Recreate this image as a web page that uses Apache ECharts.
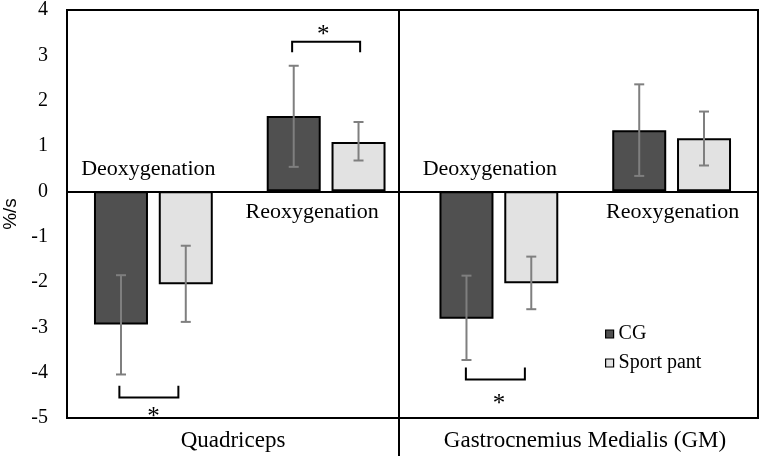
<!DOCTYPE html>
<html>
<head>
<meta charset="utf-8">
<script src="https://cdn.jsdelivr.net/npm/echarts@6/dist/echarts.min.js"></script>
<style>html,body{margin:0;padding:0;background:#fff;}#c{width:763px;height:459px;}</style>
</head>
<body>
<div id="c"></div>
<script>
// ---- data ----
const categories = ['Quadriceps Deoxygenation', 'Quadriceps Reoxygenation', 'GM Deoxygenation', 'GM Reoxygenation'];
const phaseLabels = ['Deoxygenation', 'Reoxygenation', 'Deoxygenation', 'Reoxygenation'];
const muscleLabels = ['Quadriceps', 'Gastrocnemius Medialis (GM)'];
const seriesNames = ['CG', 'Sport pant'];
const cgValues = [-2.94, 1.66, -2.81, 1.35];
const cgErrHigh = [-1.85, 2.77, -1.86, 2.36];
const cgErrLow = [-4.04, 0.54, -3.72, 0.34];
const spValues = [-2.05, 1.09, -2.03, 1.17];
const spErrHigh = [-1.20, 1.53, -1.44, 1.76];
const spErrLow = [-2.88, 0.68, -2.60, 0.57];
const yTicks = [-5, -4, -3, -2, -1, 0, 1, 2, 3, 4];
// significance brackets: [category index, bracket line value, tick end value, star value]
const sigBrackets = [
  [0, -4.55, -4.29, -4.87],
  [1, 3.30, 3.07, 3.545],
  [2, -4.15, -3.885, -4.59]
];
// phase label value positions
const phaseLabelY = [0.48, -0.46, 0.48, -0.46];

// ---- styles ----
const SERIF = 'Liberation Serif';
const BAR_W = 54;
const BAR_GAP = 0.2;
const HALF = (BAR_W + BAR_W * BAR_GAP) / 2;

const chart = echarts.init(document.getElementById('c'));

function errSeries(low, high, dx) {
  return {
    type: 'custom',
    z: 5,
    silent: true,
    data: categories.map((c, i) => [i, low[i], high[i]]),
    encode: { x: 0, y: [1, 2] },
    renderItem: function (params, api) {
      const i = api.value(0);
      const p1 = api.coord([i, api.value(1)]);
      const p2 = api.coord([i, api.value(2)]);
      const x = p1[0] + dx;
      const cap = 5;
      const st = { stroke: '#7f7f7f', lineWidth: 2 };
      return {
        type: 'group',
        children: [
          { type: 'line', shape: { x1: x, y1: p1[1], x2: x, y2: p2[1] }, style: st },
          { type: 'line', shape: { x1: x - cap, y1: p1[1], x2: x + cap, y2: p1[1] }, style: st },
          { type: 'line', shape: { x1: x - cap, y1: p2[1], x2: x + cap, y2: p2[1] }, style: st }
        ]
      };
    }
  };
}

const bracketSpan = { 0: [-34, 25, 0], 1: [-34, 34, -3], 2: [-33, 26, 0] };

const option = {
  animation: false,
  backgroundColor: '#fff',
  textStyle: { fontFamily: SERIF },
  grid: { left: 67, right: 5, top: 10, bottom: 41, outerBoundsMode: 'none', containLabel: false, show: true, borderColor: '#000', borderWidth: 2, backgroundColor: 'transparent' },
  legend: {
    data: seriesNames,
    orient: 'vertical',
    left: 600,
    top: 319,
    itemWidth: 8,
    itemHeight: 8,
    itemGap: 9,
    icon: 'rect',
    itemStyle: { borderColor: '#000', borderWidth: 1.2 },
    textStyle: { fontFamily: SERIF, fontSize: 20, color: '#000', lineHeight: 20, padding: [0, 0, 0, 0] }
  },
  xAxis: {
    type: 'category',
    data: categories,
    axisLine: { show: true, onZero: true, lineStyle: { color: '#000', width: 2 } },
    axisTick: { show: false },
    axisLabel: { show: false },
    splitLine: { show: false }
  },
  yAxis: {
    type: 'value',
    min: yTicks[0],
    max: yTicks[yTicks.length - 1],
    interval: 1,
    name: '%/s',
    nameLocation: 'middle',
    nameGap: 47,
    nameRotate: 90,
    nameTextStyle: { fontFamily: 'Liberation Sans', fontSize: 19, color: '#000' },
    axisLine: { show: false },
    axisTick: { show: false },
    splitLine: { show: false },
    axisLabel: { fontFamily: SERIF, fontSize: 20, color: '#000', margin: 19 }
  },
  series: [
    {
      name: seriesNames[0], type: 'bar', data: cgValues, barWidth: BAR_W, barGap: (BAR_GAP * 100) + '%',
      itemStyle: { color: '#505050', borderColor: '#000', borderWidth: 2 }
    },
    {
      name: seriesNames[1], type: 'bar', data: spValues, barWidth: BAR_W,
      itemStyle: { color: '#e2e2e2', borderColor: '#000', borderWidth: 2 }
    },
    errSeries(cgErrLow, cgErrHigh, -HALF),
    errSeries(spErrLow, spErrHigh, HALF),
    {
      type: 'custom',
      z: 6,
      silent: true,
      data: sigBrackets,
      encode: { x: 0, y: [1, 2, 3] },
      renderItem: function (params, api) {
        const i = api.value(0);
        const pLine = api.coord([i, api.value(1)]);
        const pTick = api.coord([i, api.value(2)]);
        const pStar = api.coord([i, api.value(3)]);
        const span = bracketSpan[i];
        const xl = pLine[0] + span[0], xr = pLine[0] + span[1];
        const st = { stroke: '#000', lineWidth: 2, fill: null };
        return {
          type: 'group',
          children: [
            { type: 'polyline', shape: { points: [[xl, pTick[1]], [xl, pLine[1]], [xr, pLine[1]], [xr, pTick[1]]] }, style: st },
            { type: 'text', style: { text: '*', x: pStar[0] + span[2], y: pStar[1] + 5, align: 'center', verticalAlign: 'middle', font: '25px ' + SERIF, fill: '#000' } }
          ]
        };
      }
    },
    {
      type: 'custom',
      z: 6,
      silent: true,
      data: categories.map((c, i) => [i, phaseLabelY[i]]),
      encode: { x: 0, y: 1 },
      renderItem: function (params, api) {
        const i = api.value(0);
        const p = api.coord([i, api.value(1)]);
        const dxs = [-5, -14, -9, 1];
        return { type: 'text', style: { text: phaseLabels[i], x: p[0] + dxs[i], y: p[1], align: 'center', verticalAlign: 'middle', font: '22px ' + SERIF, fill: '#000' } };
      }
    }
  ],
  graphic: [
    { type: 'line', shape: { x1: 399, y1: 11, x2: 399, y2: 456 }, style: { stroke: '#000', lineWidth: 2 }, z: 10 },
    { type: 'text', x: 233, y: 441, style: { text: muscleLabels[0], align: 'center', verticalAlign: 'middle', font: '23px ' + SERIF, fill: '#000' } },
    { type: 'text', x: 585, y: 441, style: { text: muscleLabels[1], align: 'center', verticalAlign: 'middle', font: '23px ' + SERIF, fill: '#000' } }
  ]
};
chart.setOption(option);
</script>
</body>
</html>
